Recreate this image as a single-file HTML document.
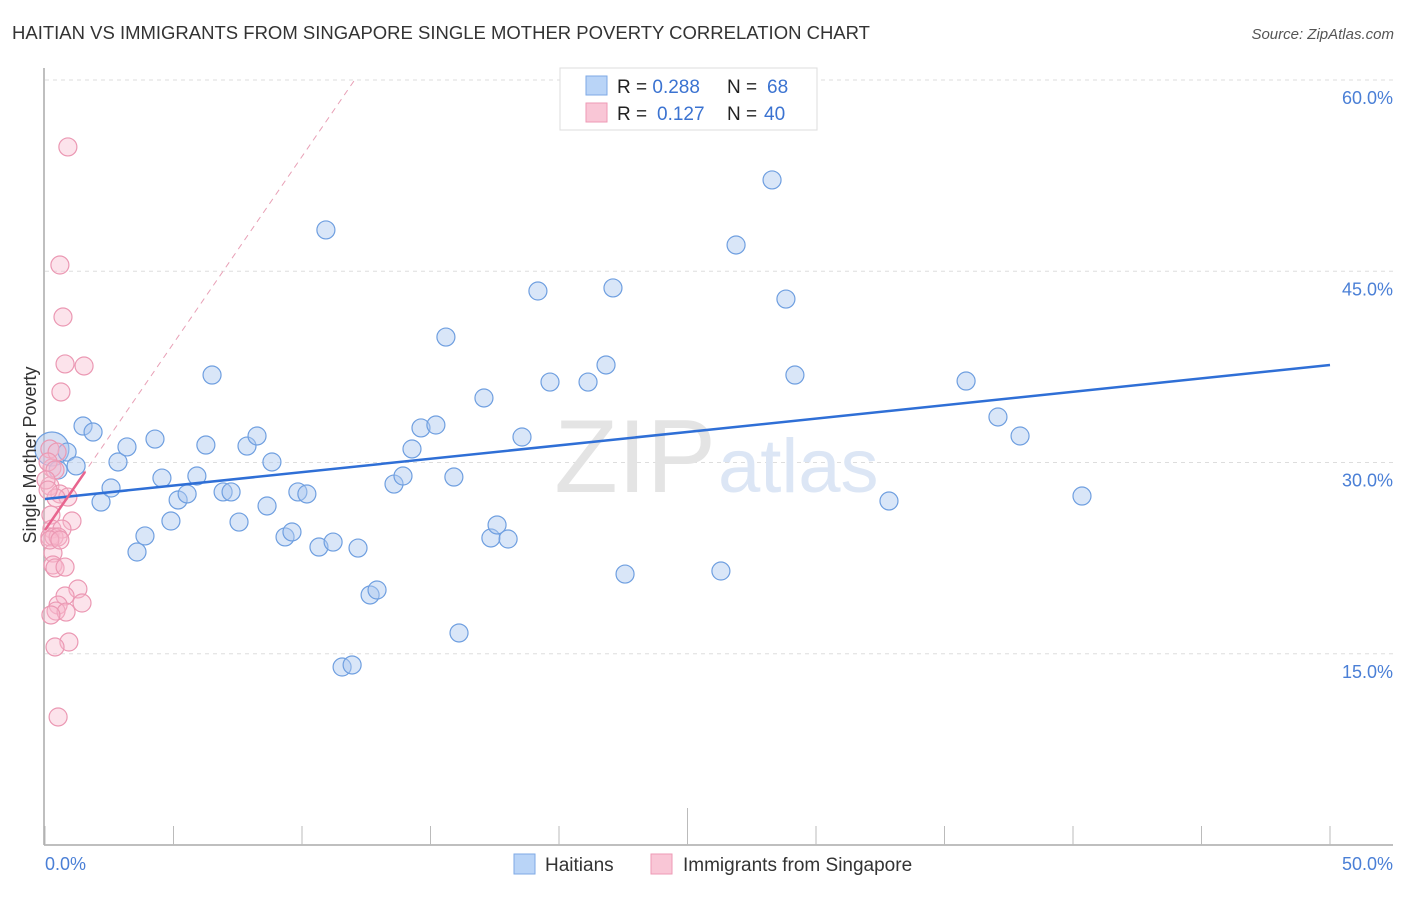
<!DOCTYPE html>
<html><head><meta charset="utf-8"><style>
body{margin:0;background:#fff;font-family:"Liberation Sans",sans-serif;}
svg text{font-family:"Liberation Sans",sans-serif;}
</style></head><body>
<svg id="chart" width="1406" height="892" xmlns="http://www.w3.org/2000/svg">
<text x="12" y="39" font-size="18.5" fill="#333">HAITIAN VS IMMIGRANTS FROM SINGAPORE SINGLE MOTHER POVERTY CORRELATION CHART</text>
<text x="1394" y="39" font-size="15" fill="#555" font-style="italic" text-anchor="end">Source: ZipAtlas.com</text>
<g id="grid"></g>
<text x="716" y="492" font-size="104" fill="#e4e4e4" text-anchor="end" font-family="Liberation Serif">ZIP</text>
<text x="718" y="492" font-size="76" fill="#dce6f5">atlas</text>
<g id="axes"></g>
<g id="marks"></g>
<g id="trends"></g>
<text x="36" y="455" font-size="18" fill="#333" text-anchor="middle" transform="rotate(-90 36 455)">Single Mother Poverty</text>
<text x="45" y="870" font-size="18" fill="#4a7fd6">0.0%</text>
<text x="1393" y="870" font-size="18" fill="#4a7fd6" text-anchor="end">50.0%</text>
<g>
<rect x="560" y="68" width="257" height="62" fill="#fff" stroke="#ddd"/>
<rect x="586" y="76" width="21" height="19" fill="#b9d4f7" stroke="#7ea9e6"/>
<rect x="586" y="103" width="21" height="19" fill="#f9c6d6" stroke="#ee9ab5"/>
<text x="617" y="93" font-size="19" fill="#222">R = <tspan fill="#3b73d1">0.288</tspan><tspan x="727">N = </tspan><tspan x="767" fill="#3b73d1">68</tspan></text>
<text x="617" y="120" font-size="19" fill="#222">R = <tspan x="657" fill="#3b73d1">0.127</tspan><tspan x="727">N = </tspan><tspan x="764" fill="#3b73d1">40</tspan></text>
</g>
<g>
<rect x="514" y="854" width="21" height="20" fill="#b9d4f7" stroke="#7ea9e6"/>
<text x="545" y="871" font-size="19" fill="#333">Haitians</text>
<rect x="651" y="854" width="21" height="20" fill="#f9c6d6" stroke="#ee9ab5"/>
<text x="683" y="871" font-size="19" fill="#333">Immigrants from Singapore</text>
</g>
</svg>
<script>
const yTicks=[15,30,45,60];
const yTickLabels=["15.0%","30.0%","45.0%","60.0%"];
const xTicks=[0,5,10,15,20,25,30,35,40,45,50];
const blueX=[0.27,0.51,0.86,1.21,1.48,1.87,2.18,2.57,2.84,3.19,3.58,3.89,4.28,4.55,4.90,5.18,5.53,5.91,6.26,6.50,6.93,7.24,7.55,7.86,8.25,8.64,8.83,9.34,9.61,9.84,10.19,10.66,10.93,11.21,11.56,11.95,12.18,12.65,12.92,13.58,13.93,14.28,14.63,15.21,15.60,15.91,16.11,17.08,17.35,17.59,18.02,18.56,19.18,19.65,21.13,21.83,22.10,22.57,26.30,26.89,28.29,28.83,29.18,32.84,35.84,37.08,37.94,40.35];
const blueY=[31.06,29.41,30.82,29.73,32.86,32.39,26.90,28.00,30.04,31.22,22.98,24.24,31.84,28.78,25.41,27.06,27.53,28.94,31.37,36.86,27.69,27.69,25.33,31.29,32.08,26.59,30.04,24.16,24.55,27.69,27.53,23.37,48.24,23.76,13.96,14.12,23.29,19.61,20.00,28.31,28.94,31.06,32.71,32.94,39.84,28.86,16.63,35.06,24.08,25.10,24.00,32.00,43.45,36.31,36.31,37.65,43.69,21.25,21.49,47.06,52.16,42.82,36.86,26.98,36.39,33.57,32.08,27.37];
const pinkX=[0.89,0.58,0.70,0.78,1.52,0.62,0.19,0.47,0.27,0.19,0.58,0.89,0.43,0.23,1.05,0.27,0.66,0.19,0.35,0.51,0.31,0.31,0.39,0.78,1.28,0.78,1.44,0.51,0.43,0.82,0.23,0.93,0.39,0.51,0.12,0.39,0.04,0.19,0.58,0.12];
const pinkY=[54.75,45.49,41.41,37.73,37.57,35.53,31.06,30.82,29.57,28.16,27.53,27.29,27.22,25.88,25.41,24.78,24.78,24.16,24.16,24.16,22.90,21.96,21.73,21.80,20.08,19.53,18.98,18.82,18.35,18.27,18.04,15.92,15.53,10.04,30.04,29.41,28.63,23.92,23.92,27.84];
const blueTrend=[27.14,37.65];
const pinkTrend=[24.7,2.93];

const NS="http://www.w3.org/2000/svg";
const X0=45,X1=1330,Y0=845,PPY=12.75;
function sx(v){return X0+(X1-X0)*v/50;}
function sy(v){return Y0-v*PPY;}
function mk(tag,attrs,parent){const e=document.createElementNS(NS,tag);for(const k in attrs)e.setAttribute(k,attrs[k]);parent.appendChild(e);return e;}
const grid=document.getElementById('grid'),axes=document.getElementById('axes'),marks=document.getElementById('marks'),trends=document.getElementById('trends');
yTicks.forEach((t,i)=>{
  const l=mk('line',{x1:45,x2:1393,y1:sy(t),y2:sy(t),stroke:'#ddd','stroke-dasharray':'4,4'},grid);
  
  
  const tx=mk('text',{x:1393,y:sy(t)+24,'font-size':18,fill:'#4a7fd6','text-anchor':'end'},grid);
  tx.textContent=yTickLabels[i];
  
  
});
let a=mk('line',{x1:44,x2:44,y1:68,y2:Y0,stroke:'#aaa','stroke-width':1.5},axes);


a=mk('line',{x1:44,x2:1393,y1:Y0,y2:Y0,stroke:'#aaa','stroke-width':1.5},axes);


xTicks.forEach(t=>{
  const l=mk('line',{x1:sx(t),x2:sx(t),y1:t===25?808:826,y2:Y0,stroke:'#bbb'},axes);
  
  
});
let pd=mk('line',{x1:sx(0),y1:sy(pinkTrend[0]),x2:sx((60-pinkTrend[0])/pinkTrend[1]),y2:sy(60),stroke:'#e8a0b6','stroke-dasharray':'6,5','stroke-width':1},trends);


blueX.forEach((x,i)=>{
  const big=i===0;
  const c=mk('circle',{cx:sx(x),cy:sy(blueY[i]),r:big?17:9,fill:big?'rgba(170,195,235,0.5)':'rgba(170,200,240,0.45)',stroke:'#6f9fe0','stroke-width':1.2},marks);
  
  
});
pinkX.forEach((x,i)=>{
  const c=mk('circle',{cx:sx(x),cy:sy(pinkY[i]),r:9,fill:'rgba(248,185,205,0.4)',stroke:'#eb98b3','stroke-width':1.2},marks);
  
  
});
let bt=mk('line',{x1:sx(0),y1:sy(blueTrend[0]),x2:sx(50),y2:sy(blueTrend[1]),stroke:'#2f6fd6','stroke-width':2.5},trends);


let pt=mk('line',{x1:sx(0),y1:sy(pinkTrend[0]),x2:sx(1.56),y2:sy(pinkTrend[0]+pinkTrend[1]*1.56),stroke:'#e8648e','stroke-width':2.5},trends);


</script>
</body></html>
